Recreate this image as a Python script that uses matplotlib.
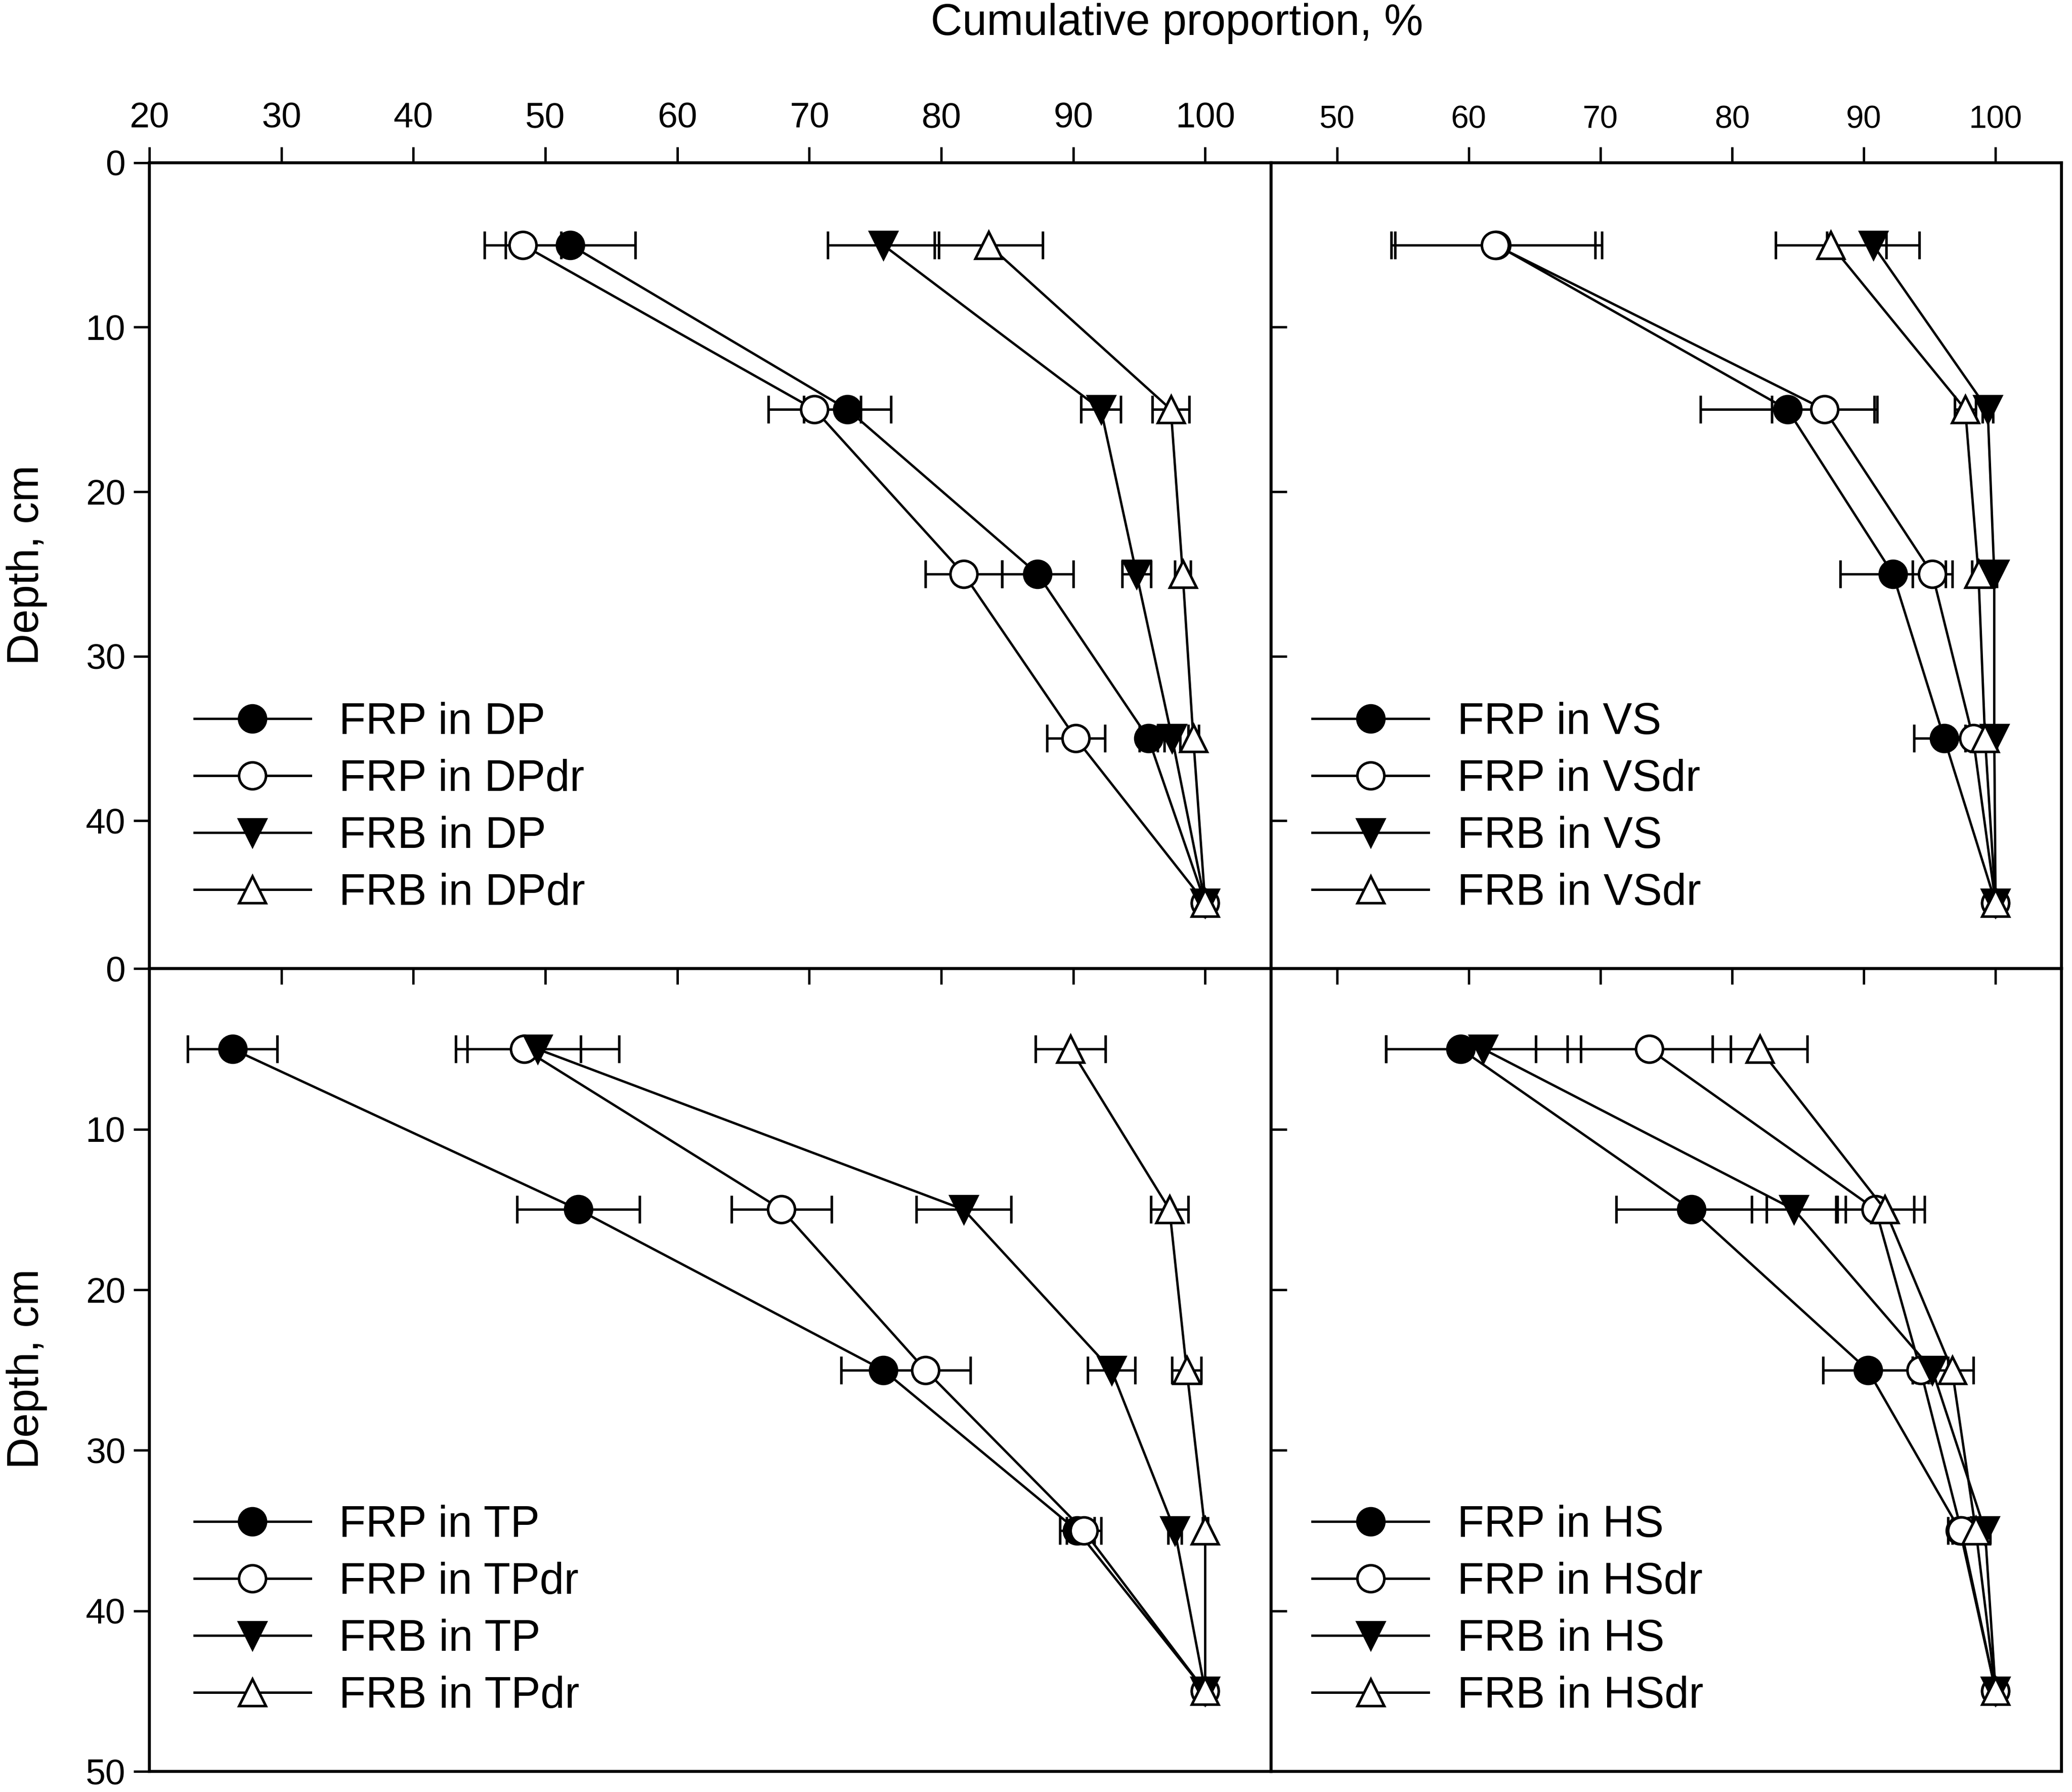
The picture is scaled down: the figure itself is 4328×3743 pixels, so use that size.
import matplotlib
matplotlib.use("Agg")
import matplotlib.pyplot as plt
import numpy as np

plt.rcParams["font.family"] = ["Liberation Sans", "DejaVu Sans"]

depth = [5, 15, 25, 35, 45]

# DP panel (top left)
frp_dp = [51.9, 72.9, 87.3, 95.7, 100]
frp_dp_se = [4.9, 3.3, 2.7, 0.7, 0]
frp_dpdr = [48.3, 70.4, 81.7, 90.2, 100]
frp_dpdr_se = [2.9, 3.5, 2.9, 2.2, 0]
frb_dp = [75.6, 92.1, 94.8, 97.5, 100]
frb_dp_se = [4.2, 1.5, 1.1, 0.6, 0]
frb_dpdr = [83.6, 97.4, 98.3, 99.1, 100]
frb_dpdr_se = [4.1, 1.4, 0.6, 0.4, 0]

# VS panel (top right)
frp_vs = [62.1, 84.2, 92.2, 96.1, 100]
frp_vs_se = [8.0, 6.6, 4.0, 2.3, 0]
frp_vsdr = [62.0, 87.0, 95.2, 98.3, 100]
frp_vsdr_se = [7.6, 4.0, 1.5, 0.6, 0]
frb_vs = [90.7, 99.4, 99.9, 99.9, 100]
frb_vs_se = [3.5, 0.4, 0.2, 0.2, 0]
frb_vsdr = [87.5, 97.7, 98.7, 99.2, 100]
frb_vsdr_se = [4.2, 0.8, 0.5, 0.3, 0]

# TP panel (bottom left)
frp_tp = [26.3, 52.5, 75.6, 90.3, 100]
frp_tp_se = [3.4, 4.65, 3.2, 1.3, 0]
frp_tpdr = [48.4, 67.9, 78.8, 90.8, 100]
frp_tpdr_se = [4.3, 3.8, 3.4, 1.3, 0]
frb_tp = [49.4, 81.7, 92.9, 97.7, 100]
frb_tp_se = [6.2, 3.6, 1.8, 0.5, 0]
frb_tpdr = [89.8, 97.3, 98.6, 100.0, 100]
frb_tpdr_se = [2.65, 1.4, 1.1, 0.2, 0]

# HS panel (bottom right)
frp_hs = [59.4, 76.9, 90.3, 97.3, 100]
frp_hs_se = [5.7, 5.7, 3.4, 0.6, 0]
frp_hsdr = [73.7, 90.9, 94.3, 97.4, 100]
frp_hsdr_se = [6.2, 2.9, 0.6, 1.0, 0]
frb_hs = [61.1, 84.7, 95.2, 99.2, 100]
frb_hs_se = [7.4, 3.2, 1.2, 0.4, 0]
frb_hsdr = [82.1, 91.6, 96.7, 98.5, 100]
frb_hsdr_se = [3.6, 3.0, 1.6, 0.5, 0]

left_xticks = [20, 30, 40, 50, 60, 70, 80, 90, 100]
right_xticks = [50, 60, 70, 80, 90, 100]
top_yticks = [0, 10, 20, 30, 40]
bottom_yticks = [0, 10, 20, 30, 40, 50]

# marker, face colour for FRP, FRPdr, FRB, FRBdr
styles = [("o", "black"), ("o", "white"), ("v", "black"), ("^", "white")]


def draw_panel(ax, series, site, leg_x):
    labels = [f"FRP in {site}", f"FRP in {site}dr", f"FRB in {site}", f"FRB in {site}dr"]
    y = np.array(depth, dtype=float)
    for i, ((vals, se), (mk, fc)) in enumerate(zip(series, styles)):
        vals = np.array(vals, dtype=float)
        se = np.array(se, dtype=float)
        m = se > 0
        ax.errorbar(vals[m], y[m], xerr=se[m], fmt="none", ecolor="black",
                    elinewidth=1.2, capsize=7, capthick=1.3, zorder=2 + i * 0.1)
        ax.plot(vals, y, color="black", lw=1.2, marker=mk, markersize=13.5,
                markerfacecolor=fc, markeredgecolor="black", markeredgewidth=1.3,
                label=labels[i], zorder=3 + i * 0.1)
    leg = ax.legend(loc="lower left", bbox_to_anchor=(leg_x, 0.068), frameon=False,
                    fontsize=22, handlelength=2.65, handletextpad=0.65,
                    labelspacing=0.36, borderpad=0, borderaxespad=0)
    return leg


fig = plt.figure(figsize=(4328 / 300, 3743 / 300), dpi=300)

x0, xm, x1 = 0.0721, 0.6135, 0.9949
y0, ym, y1 = 0.0115, 0.4594, 0.9092

ax_dp = fig.add_axes([x0, ym, xm - x0, y1 - ym], facecolor="none")
ax_vs = fig.add_axes([xm, ym, x1 - xm, y1 - ym], facecolor="none")
ax_tp = fig.add_axes([x0, y0, xm - x0, ym - y0], facecolor="none")
ax_hs = fig.add_axes([xm, y0, x1 - xm, ym - y0], facecolor="none")

draw_panel(ax_dp, [(frp_dp, frp_dp_se), (frp_dpdr, frp_dpdr_se),
                   (frb_dp, frb_dp_se), (frb_dpdr, frb_dpdr_se)], "DP", 0.04)
draw_panel(ax_vs, [(frp_vs, frp_vs_se), (frp_vsdr, frp_vsdr_se),
                   (frb_vs, frb_vs_se), (frb_vsdr, frb_vsdr_se)], "VS", 0.052)
draw_panel(ax_tp, [(frp_tp, frp_tp_se), (frp_tpdr, frp_tpdr_se),
                   (frb_tp, frb_tp_se), (frb_tpdr, frb_tpdr_se)], "TP", 0.04)
draw_panel(ax_hs, [(frp_hs, frp_hs_se), (frp_hsdr, frp_hsdr_se),
                   (frb_hs, frb_hs_se), (frb_hsdr, frb_hsdr_se)], "HS", 0.052)

for ax in (ax_dp, ax_tp):
    ax.set_xlim(20, 105)
    ax.set_xticks(left_xticks)
for ax in (ax_vs, ax_hs):
    ax.set_xlim(45, 105)
    ax.set_xticks(right_xticks)

for ax in (ax_dp, ax_vs):
    ax.set_ylim(49, 0)
    ax.set_yticks(top_yticks)
for ax in (ax_tp, ax_hs):
    ax.set_ylim(50, 0)
    ax.set_yticks(bottom_yticks)

for ax in (ax_dp, ax_vs, ax_tp, ax_hs):
    for sp in ax.spines.values():
        sp.set_linewidth(1.5)
    ax.tick_params(direction="out", length=8, width=1.2)

# x ticks only on the top row, labelled above
for ax, fs in ((ax_dp, 18), (ax_vs, 16)):
    ax.tick_params(axis="x", top=True, bottom=True, labeltop=True,
                   labelbottom=False, labelsize=fs, pad=6)
for ax in (ax_tp, ax_hs):
    ax.tick_params(axis="x", top=False, bottom=False, labeltop=False,
                   labelbottom=False)

# y ticks only on the left column
for ax in (ax_dp, ax_tp):
    ax.tick_params(axis="y", left=True, right=True, labelleft=True,
                   labelright=False, labelsize=18, pad=4)
for ax in (ax_vs, ax_hs):
    ax.tick_params(axis="y", left=False, right=False, labelleft=False)

fig.text(0.568, 0.987, "Cumulative proportion, %", fontsize=22,
         ha="center", va="center")
fig.text(0.013, 0.6846, "Depth, cm", fontsize=22, rotation=90,
         ha="center", va="center")
fig.text(0.013, 0.236, "Depth, cm", fontsize=22, rotation=90,
         ha="center", va="center")

fig.savefig("out.png", dpi=300)
